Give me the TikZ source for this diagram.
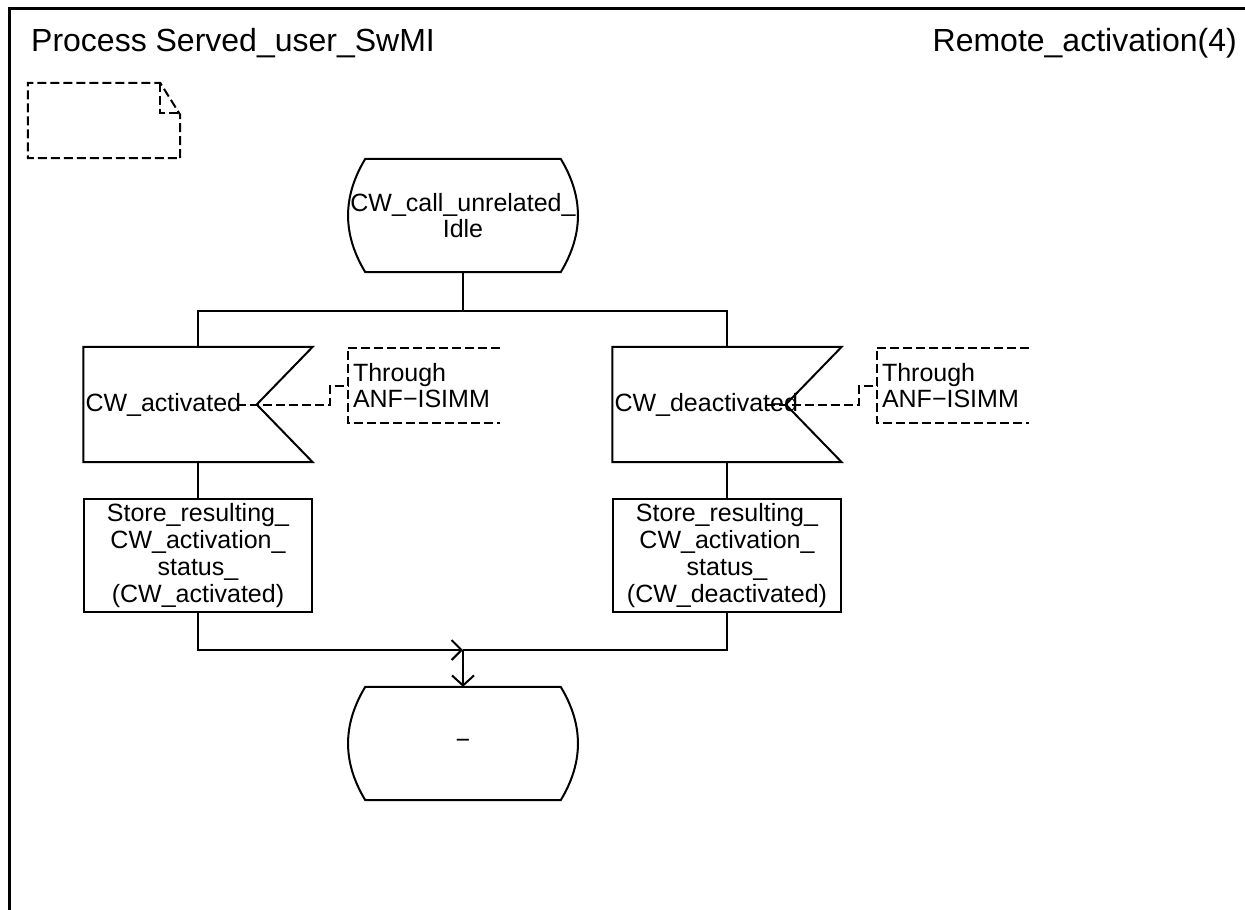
\documentclass[tikz,border=0pt]{standalone}
\usepackage{fontspec}
\setmainfont{Liberation Sans}
\usepackage{tikz}
\usetikzlibrary{arrows.meta}
\usetikzlibrary{calc}
\newcommand\sdlfont{\fontsize{25}{26.7}\selectfont}
\newcommand\sdltitle{\fontsize{32}{34}\selectfont}
\tikzset{%
  sdl/.style={line width=2pt},
  sdldash/.style={line width=2pt, dash pattern=on 9pt off 4pt},
  state/.style={
    minimum width=229pt, minimum height=113pt, inner sep=0pt,
    align=center, font=\sdlfont,
    append after command={\pgfextra{\let\sn\tikzlastnode
      \draw[sdl] ($(\sn.north west)+(17,0)$) -- ($(\sn.north east)+(-17,0)$)
        .. controls ($(\sn.north east)+(6,38)$) and ($(\sn.south east)+(6,-38)$) .. ($(\sn.south east)+(-17,0)$)
        -- ($(\sn.south west)+(17,0)$)
        .. controls ($(\sn.south west)+(-6,-38)$) and ($(\sn.north west)+(-6,38)$) .. cycle;}}
  },
  input/.style={
    minimum width=229pt, minimum height=115pt, inner xsep=2pt,
    text width=225pt, align=left, font=\sdlfont,
    append after command={\pgfextra{\let\sn\tikzlastnode
      \draw[sdl] (\sn.north west) -- (\sn.north east) -- ($(\sn.east)+(-56,0)$)
        -- (\sn.south east) -- (\sn.south west) -- cycle;}}
  },
  task/.style={
    draw, sdl, minimum width=228pt, minimum height=113pt, inner sep=0pt,
    align=center, font=\sdlfont
  },
  comment/.style={
    minimum width=152pt, minimum height=75pt, inner xsep=5pt,
    text width=142pt, align=left, font=\sdlfont,
    append after command={\pgfextra{\let\sn\tikzlastnode
      \draw[sdldash] (\sn.north east) -- (\sn.north west) -- (\sn.south west) -- (\sn.south east);}}
  },
  textsym/.style={
    minimum width=152pt, minimum height=75pt, inner sep=0pt,
    append after command={\pgfextra{\let\sn\tikzlastnode
      \draw[sdldash] (\sn.south east) -- ($(\sn.north east)+(0,32)$) -- ($(\sn.north east)+(-20,0)$)
        -- (\sn.north west) -- (\sn.south west) -- cycle;
      \draw[sdldash] ($(\sn.north east)+(-20,0)$) -- ($(\sn.north east)+(-20,30)$) -- ($(\sn.north east)+(0,30)$);}}
  },
}
\begin{document}
\begin{tikzpicture}[x=1pt,y=-1pt]
    \useasboundingbox (0,0) rectangle (1245,910);
    \draw   [line width=3pt] (9,910) -- (9,8) -- (1245,8);

    \node (ttl) [anchor=west,inner sep=0pt,font=\sdltitle] at (31,43)
    {Process Served\_user\_SwMI};
    \node (page) [anchor=east,inner sep=0pt,font=\sdltitle] at (1237,43)
    {Remote\_activation(4)};
    \node (txt) [textsym] at (104,120.5) {};

    \node (st) [state] at (463,215.5)
    {CW\_call\_unrelated\_\\Idle};
    \node (inA) [input] at (198,404.5) {CW\_activated};
    \node (inB) [input] at (727,404.5) {CW\_deactivated};
    \node (comA) [comment] at (424,385.5) {Through\\ANF−ISIMM};
    \node (comB) [comment] at (953,385.5) {Through\\ANF−ISIMM};
    \node (taskA) [task] at (198,555.5)
    {Store\_resulting\_\\CW\_activation\_\\status\_\\(CW\_activated)};
    \node (taskB) [task] at (727,555.5)
    {Store\_resulting\_\\CW\_activation\_\\status\_\\(CW\_deactivated)};
    \node (nx) [state] at (463,743.5) {−};

    \coordinate (split) at (463,311);
    \coordinate (join) at (463,650);

    \draw   [sdl] (st.south) -- (split);
    \draw   [sdl] (inA.north) |- (split) -| (inB.north);
    \draw   [sdldash] ($(inA.east)+(-76,0)$) -| ($(comA.west)+(-18,0)$) -- (comA.west);
    \draw   [sdldash] ($(inB.east)+(-76,0)$) -| ($(comB.west)+(-18,0)$) -- (comB.west);
    \draw   [sdl] (inA.south) -- (taskA.north);
    \draw   [sdl] (inB.south) -- (taskB.north);
    \draw   [sdl,-{Straight Barb[length=10pt,width=20pt]}] (taskA.south) |- (join);
    \draw   [sdl] (taskB.south) |- (join);
    \draw   [sdl,-{Straight Barb[length=10pt,width=22pt]}] (join) -- (nx.north);
\end{tikzpicture}
\end{document}
